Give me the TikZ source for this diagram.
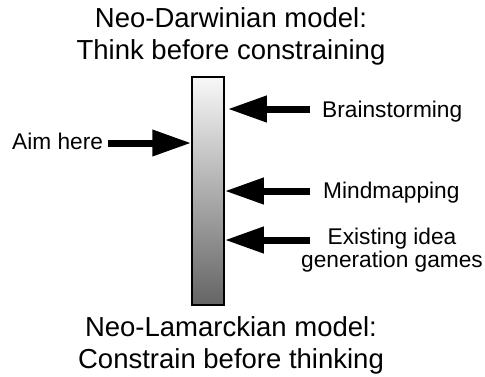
\documentclass[tikz,border=0pt]{standalone}
\usepackage{fontspec}
\setmainfont{Liberation Sans}
\usepackage{tikz}
\usetikzlibrary{arrows.meta,positioning}
\definecolor{bartop}{HTML}{F8F8F8}
\definecolor{barbot}{HTML}{646464}

\begin{document}
\begin{tikzpicture}[x=1pt,y=-1pt,
    ttl/.style={align=center,anchor=base,font=\fontsize{27.5}{32}\selectfont},
    lbl/.style={anchor=base west,inner sep=0pt,font=\fontsize{22.7}{23}\selectfont},
    bigarrow/.style={line width=7pt,-{Triangle[length=39pt,width=25pt]}}]
  \useasboundingbox (0,0) rectangle (485,376);
  % titles (base = last line)
  \node[ttl] (darwin) at (231,59) {Neo-Darwinian model:\\Think before constraining};
  \node[ttl] (lamarck) at (231,368) {Neo-Lamarckian model:\\Constrain before thinking};
  % shaded bar
  \node[draw=black,line width=1.5pt,minimum width=32pt,minimum height=228pt,
        inner sep=0pt,top color=bartop,bottom color=barbot] (bar) at (208,191) {};
  % labels
  \node[lbl] (aim) at (12,149) {Aim here};
  \node[lbl] (brain) at (322,117) {Brainstorming};
  \node[lbl] (mind) at (323,198) {Mindmapping};
  \node[lbl,anchor=base,align=center] (games) at (392,267) {Existing idea\\generation games};
  % arrow tails
  \coordinate (aimtail) at (108,143);
  \coordinate (braintail) at (310,109);
  \coordinate (mindtail) at (310,191);
  \coordinate (gamestail) at (310,240);
  % arrows
  \draw[bigarrow] (aimtail) -- (bar.west |- aimtail);
  \draw[bigarrow,shorten >=3pt] (braintail) -- (bar.east |- braintail);
  \draw[bigarrow] (mindtail) -- (bar.east |- mindtail);
  \draw[bigarrow] (gamestail) -- (bar.east |- gamestail);
\end{tikzpicture}
\end{document}
